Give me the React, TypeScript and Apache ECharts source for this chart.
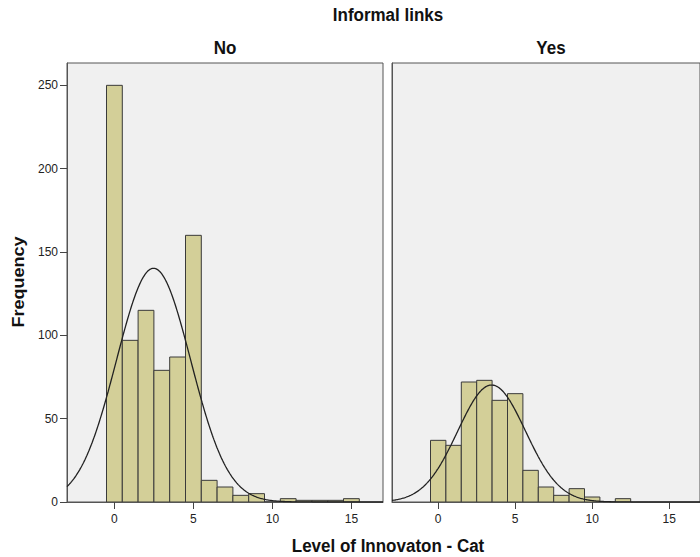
import React, { useEffect, useRef } from "react";
import * as echarts from "echarts";

// Histogram bins (bin centre = integer value, width 1)
const binCentersNo = [0, 1, 2, 3, 4, 5, 6, 7, 8, 9, 10, 11, 12, 13, 14, 15];
const countsNo = [250, 97, 115, 79, 87, 160, 13, 9, 4, 5, 0, 2, 1, 1, 1, 2];
const binCentersYes = [0, 1, 2, 3, 4, 5, 6, 7, 8, 9, 10, 11, 12];
const countsYes = [37, 34, 72, 73, 61, 65, 19, 9, 4, 8, 3, 0, 2];

// Normal curve parameters
const meanNo = 2.48;
const sdNo = 2.35;
const meanYes = 3.47;
const sdYes = 2.2;

const xTicks = [0, 5, 10, 15];
const yTicks = [0, 50, 100, 150, 200, 250];
const panelTitles = ["No", "Yes"];
const mainTitle = "Informal links";
const xTitle = "Level of Innovaton - Cat";
const yTitle = "Frequency";

const X_MIN = -3;
const X_MAX = 17;
const Y_MAX = 263.4;

function normalCurve(mean: number, sd: number, n: number): number[][] {
  const pts: number[][] = [];
  for (let i = 0; i <= 400; i++) {
    const x = X_MIN + (i * (X_MAX - X_MIN)) / 400;
    const z = (x - mean) / sd;
    pts.push([x, (n / (sd * Math.sqrt(2 * Math.PI))) * Math.exp(-0.5 * z * z)]);
  }
  return pts;
}

const sum = (a: number[]) => a.reduce((s, v) => s + v, 0);

const FONT = "'Liberation Sans', Arial, sans-serif";

const titleText = (text: string, x: number, y: number, rotation = 0) => ({
  type: "text",
  x,
  y,
  rotation,
  scaleX: rotation ? 1.06 : 1,
  scaleY: rotation ? 1 : 1.06,
  style: {
    text,
    fontSize: 17,
    fontWeight: "bold",
    fontFamily: FONT,
    fill: "#111",
    align: "center",
    verticalAlign: "middle",
  },
});

export default function App() {
  const ref = useRef<HTMLDivElement>(null);
  useEffect(() => {
    if (!ref.current) return;
    const chart = echarts.init(ref.current, undefined, { renderer: "svg" });

    const renderBar = (params: any, api: any) => {
      const x = api.value(0);
      const c = api.value(1);
      const p0 = api.coord([x - 0.5, c]);
      const p1 = api.coord([x + 0.5, 0]);
      return {
        type: "rect",
        shape: { x: p0[0], y: p0[1], width: p1[0] - p0[0], height: p1[1] - p0[1] },
        style: { fill: "#D3CF98", stroke: "#3a3a3a", lineWidth: 1 },
      };
    };

    const xAxisBase = (gi: number) => ({
      type: "value",
      gridIndex: gi,
      min: X_MIN,
      max: X_MAX,
      splitLine: { show: false },
      axisLine: { show: true, onZero: false, lineStyle: { color: "#555", width: 1 } },
      axisTick: { show: true, length: 7, customValues: xTicks, lineStyle: { color: "#444" } },
      axisLabel: {
        show: true,
        customValues: xTicks,
        color: "#222",
        fontSize: 12,
        fontFamily: FONT,
        margin: 11,
      },
    });

    const option: any = {
      animation: false,
      backgroundColor: "#ffffff",
      grid: [
        {
          left: 67,
          top: 63,
          width: 316,
          height: 439,
          show: true,
          backgroundColor: "#F0F0F0",
          borderColor: "#555",
          borderWidth: 1,
        },
        {
          left: 392,
          top: 63,
          width: 317,
          height: 439,
          show: true,
          backgroundColor: "#F0F0F0",
          borderColor: "#555",
          borderWidth: 1,
        },
      ],
      xAxis: [xAxisBase(0), xAxisBase(1)],
      yAxis: [
        {
          type: "value",
          gridIndex: 0,
          min: 0,
          max: Y_MAX,
          splitLine: { show: false },
          axisLine: { show: true, onZero: false, lineStyle: { color: "#555" } },
          axisTick: { show: true, length: 7, customValues: yTicks, lineStyle: { color: "#444" } },
          axisLabel: {
            show: true,
            customValues: yTicks,
            color: "#222",
            fontSize: 12,
            fontFamily: FONT,
            margin: 9,
          },
        },
        {
          type: "value",
          gridIndex: 1,
          min: 0,
          max: Y_MAX,
          splitLine: { show: false },
          axisLine: { show: true, onZero: false, lineStyle: { color: "#555" } },
          axisTick: { show: false },
          axisLabel: { show: false },
        },
      ],
      series: [
        {
          type: "custom",
          xAxisIndex: 0,
          yAxisIndex: 0,
          renderItem: renderBar,
          data: binCentersNo.map((x, i) => [x, countsNo[i]]),
          clip: true,
          silent: true,
        },
        {
          type: "custom",
          xAxisIndex: 1,
          yAxisIndex: 1,
          renderItem: renderBar,
          data: binCentersYes.map((x, i) => [x, countsYes[i]]),
          clip: true,
          silent: true,
        },
        {
          type: "line",
          xAxisIndex: 0,
          yAxisIndex: 0,
          data: normalCurve(meanNo, sdNo, sum(countsNo)),
          showSymbol: false,
          symbol: "none",
          clip: true,
          lineStyle: { color: "#222", width: 1.3 },
          z: 5,
        },
        {
          type: "line",
          xAxisIndex: 1,
          yAxisIndex: 1,
          data: normalCurve(meanYes, sdYes, sum(countsYes)),
          showSymbol: false,
          symbol: "none",
          clip: true,
          lineStyle: { color: "#222", width: 1.3 },
          z: 5,
        },
      ],
      graphic: [
        titleText(mainTitle, 388, 15),
        titleText(panelTitles[0], 225, 48),
        titleText(panelTitles[1], 551, 48),
        titleText(yTitle, 18, 282, Math.PI / 2),
        titleText(xTitle, 388, 546),
      ],
    };

    chart.setOption(option);
    return () => chart.dispose();
  }, []);

  return (
    <div
      ref={ref}
      style={{ position: "fixed", left: 0, top: 0, width: 700, height: 557 }}
    />
  );
}
